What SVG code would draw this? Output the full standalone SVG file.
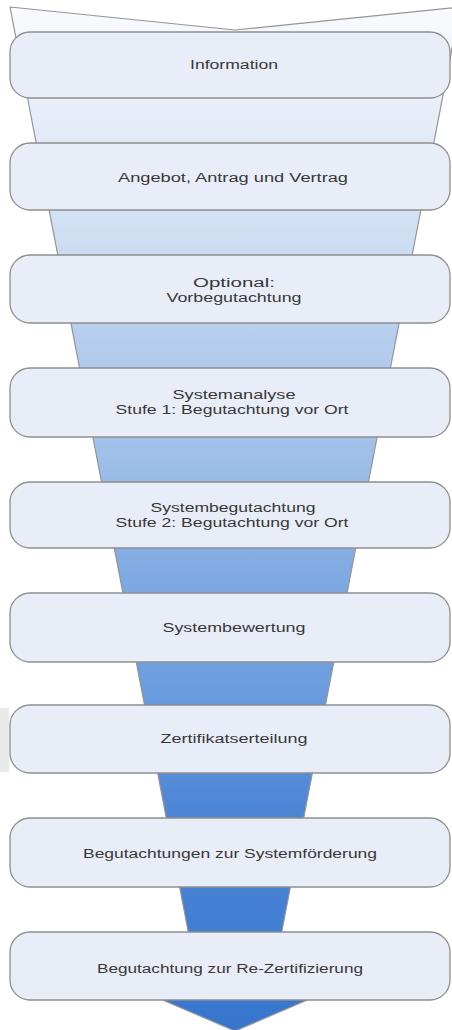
<svg xmlns="http://www.w3.org/2000/svg" width="452" height="1030" viewBox="0 0 452 1030">
<defs>
<linearGradient id="fun" gradientUnits="userSpaceOnUse" x1="0" y1="7" x2="0" y2="1030">
<stop offset="0" stop-color="#f8fafd"/>
<stop offset="0.1" stop-color="#e8eef8"/>
<stop offset="0.22" stop-color="#cfdff3"/>
<stop offset="0.33" stop-color="#b5ccee"/>
<stop offset="0.45" stop-color="#9dbde8"/>
<stop offset="0.56" stop-color="#7fa9e2"/>
<stop offset="0.67" stop-color="#6a9cde"/>
<stop offset="0.78" stop-color="#4f87d6"/>
<stop offset="0.89" stop-color="#437fd3"/>
<stop offset="1" stop-color="#3775cd"/>
</linearGradient>
<style>
.box{fill:#e8edf7;stroke:#8e8e8e;stroke-width:1.3}
.t{font-family:"Liberation Sans",Arial,sans-serif;font-size:12.5px;fill:#383838;text-anchor:middle}
</style>
</defs>
<rect x="0" y="708" width="9" height="64" fill="#e9e9e9"/>
<g id="connectors">
<path id="funnel" d="M10,7 L235,30 L460,7 L269,998 L312,998 L235,1031 L158,998 L201,998 Z" fill="url(#fun)" stroke="#959595" stroke-width="1.2" stroke-linejoin="round"/>
</g>
<g id="n1"><rect class="box" x="10" y="32" width="440" height="66" rx="20"/>
<text class="t" x="234" y="69" textLength="88" lengthAdjust="spacingAndGlyphs">Information</text></g>
<g id="n2"><rect class="box" x="10" y="143" width="440" height="67" rx="20"/>
<text class="t" x="233" y="182" textLength="230" lengthAdjust="spacingAndGlyphs">Angebot, Antrag und Vertrag</text></g>
<g id="n3"><rect class="box" x="10" y="255" width="440" height="68" rx="20"/>
<text class="t" x="234" y="287" textLength="82" lengthAdjust="spacingAndGlyphs">Optional:</text>
<text class="t" x="234" y="302" textLength="135" lengthAdjust="spacingAndGlyphs">Vorbegutachtung</text></g>
<g id="n4"><rect class="box" x="10" y="368" width="440" height="69" rx="20"/>
<text class="t" x="234" y="399" textLength="123" lengthAdjust="spacingAndGlyphs">Systemanalyse</text>
<text class="t" x="232" y="414" textLength="233" lengthAdjust="spacingAndGlyphs">Stufe 1: Begutachtung vor Ort</text></g>
<g id="n5"><rect class="box" x="10" y="482" width="440" height="66" rx="20"/>
<text class="t" x="233" y="512" textLength="165" lengthAdjust="spacingAndGlyphs">Systembegutachtung</text>
<text class="t" x="232" y="527" textLength="233" lengthAdjust="spacingAndGlyphs">Stufe 2: Begutachtung vor Ort</text></g>
<g id="n6"><rect class="box" x="10" y="593" width="440" height="69" rx="20"/>
<text class="t" x="234" y="632" textLength="143" lengthAdjust="spacingAndGlyphs">Systembewertung</text></g>
<g id="n7"><rect class="box" x="10" y="705" width="440" height="68" rx="20"/>
<text class="t" x="234" y="743" textLength="147" lengthAdjust="spacingAndGlyphs">Zertifikatserteilung</text></g>
<g id="n8"><rect class="box" x="10" y="818" width="440" height="69" rx="20"/>
<text class="t" x="230" y="858" textLength="294" lengthAdjust="spacingAndGlyphs">Begutachtungen zur Systemförderung</text></g>
<g id="n9"><rect class="box" x="10" y="932" width="440" height="68" rx="20"/>
<text class="t" x="230" y="973" textLength="266" lengthAdjust="spacingAndGlyphs">Begutachtung zur Re-Zertifizierung</text></g>
</svg>
